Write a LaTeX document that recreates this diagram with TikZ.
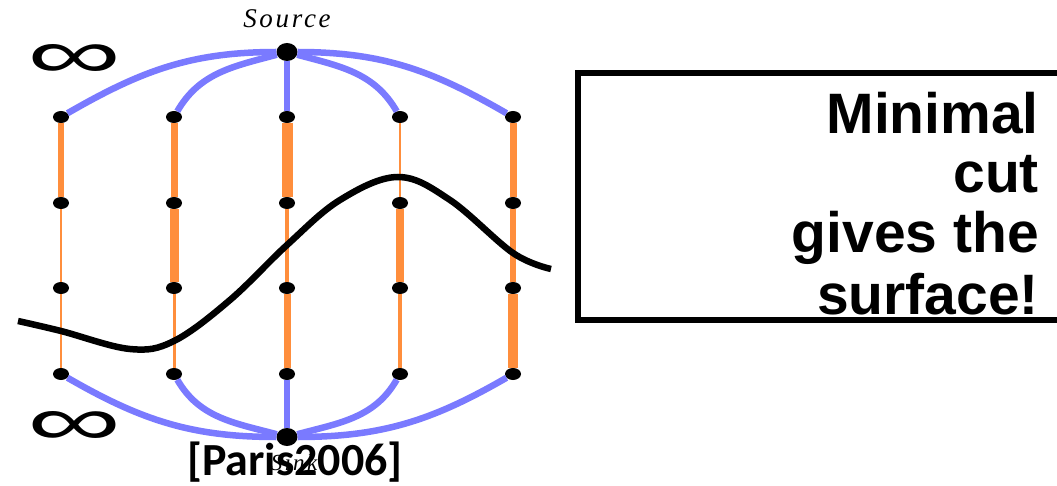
\documentclass[tikz,border=0pt]{standalone}
\usepackage{fontspec}
\setmainfont{Liberation Serif}
\newfontfamily\arialf{Liberation Sans}
\newfontfamily\calf{Carlito}
\usetikzlibrary{shapes.geometric}
\definecolor{flowblue}{RGB}{122,122,255}
\definecolor{floworange}{RGB}{255,142,60}
\begin{document}
\begin{tikzpicture}[x=1pt,y=-1pt,
  gnode/.style={ellipse,fill=black,minimum width=16pt,minimum height=12pt,inner sep=0pt},
  bignode/.style={ellipse,fill=black,minimum width=21pt,minimum height=18pt,inner sep=0pt},
  tedge/.style={draw=floworange,line width=#1},
  sedge/.style={draw=flowblue,line width=6.5pt},
  cutline/.style={draw=black,line width=6.5pt},
  boxline/.style={draw=black,line width=6pt},
  boxtext/.style={anchor=base east,inner sep=0pt,font=\fontsize{57}{60}\selectfont\arialf\bfseries},
  termtext/.style={inner sep=0pt,font=\fontsize{#1}{#1}\selectfont\itshape\addfontfeature{LetterSpace=10}},
  inftext/.style={inner sep=0pt,font=\arialf}]
\useasboundingbox (0,0) rectangle (1057,486);
\clip (0,0) rectangle (1057,486);

% terminal nodes
\node[bignode] (src) at (287,52) {};
\node[bignode] (snk) at (287,437) {};
% grid nodes
\foreach \c/\x in {1/61,2/174,3/287,4/400,5/513}
  \foreach \r/\y in {1/117,2/203,3/288,4/374}
    \node[gnode] (n\c\r) at (\x,\y) {};

% orange edges (capacities)
\foreach \c/\a/\b/\d in {1/6.5/2/1.5, 2/7/9/3, 3/11/4.5/7, 4/1.2/8/4.5, 5/7/6.5/9.5} {
  \draw[tedge=\a pt] (n\c1) -- (n\c2);
  \draw[tedge=\b pt] (n\c2) -- (n\c3);
  \draw[tedge=\d pt] (n\c3) -- (n\c4);
}

% blue edges from source
\draw[sedge] (src) to[out=180,in=30] (n11);
\draw[sedge] (src) to[out=195,in=60] (n21);
\draw[sedge] (src) -- (n31);
\draw[sedge] (src) to[out=-15,in=120] (n41);
\draw[sedge] (src) to[out=0,in=150] (n51);
% blue edges to sink
\draw[sedge] (snk) to[out=180,in=-30] (n14);
\draw[sedge] (snk) to[out=165,in=-60] (n24);
\draw[sedge] (snk) -- (n34);
\draw[sedge] (snk) to[out=15,in=-120] (n44);
\draw[sedge] (snk) to[out=0,in=-150] (n54);

% labels
\node[termtext=27, anchor=base] (srclabel) at (287,28) {Source};
\node[inftext] (inf1) at (75,61) {\resizebox{94pt}{34pt}{∞}};
\node[inftext] (inf2) at (75,428) {\resizebox{94pt}{34pt}{∞}};
\node[termtext=23, anchor=base] (snklabel) at (294,470) {Sink};
\node[anchor=base,inner sep=0pt,font=\fontsize{46}{46}\selectfont\calf\bfseries] (ref) at (295,475) {[Paris2006]};

% the cut
\draw[cutline] plot[smooth,tension=0.6] coordinates {(18,321) (61,331) (130,349) (174,341) (230,300) (287,245) (340,200) (398,177) (450,200) (513,253) (551,269)};

% text box
\draw[boxline] (1075,73) -- (578,73) -- (578,320) -- (1075,320);
\node[boxtext] (l1) at (1039,134) {Minimal};
\node[boxtext] (l2) at (1039,193) {cut};
\node[boxtext] (l3) at (1039,253) {gives the};
\node[boxtext] (l4) at (1039,314) {surface!};
\end{tikzpicture}
\end{document}
